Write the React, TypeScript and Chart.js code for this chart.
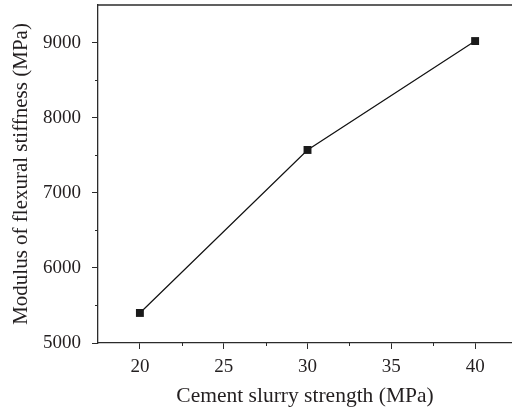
import React, { useEffect, useRef } from "react";
import { Chart, registerables } from "chart.js";

Chart.register(...registerables);

const strengths = [20, 30, 40];
const stiffness = [5400, 7570, 9020];
const xMajorTicks = [20, 25, 30, 35, 40];
const xMinorTicks = [22.5, 27.5, 32.5, 37.5];
const yMajorTicks = [5000, 6000, 7000, 8000, 9000];
const yMinorTicks = [5500, 6500, 7500, 8500];

const AXIS_COLOR = "#2b2b2b";
const TEXT_COLOR = "#231f20";
const FONT = "'Liberation Serif', 'DejaVu Serif', serif";

const framePlugin = {
  id: "frameAndMinor",
  afterDraw(chart: any) {
    const { ctx, chartArea, scales } = chart;
    ctx.save();
    ctx.strokeStyle = AXIS_COLOR;
    ctx.lineWidth = 1.3;
    ctx.beginPath();
    ctx.moveTo(chartArea.left, chartArea.top);
    ctx.lineTo(chartArea.right + 1, chartArea.top);
    ctx.stroke();
    ctx.lineWidth = 1;
    ctx.beginPath();
    for (const v of xMinorTicks) {
      const px = Math.round(scales.x.getPixelForValue(v)) + 0.5;
      ctx.moveTo(px, chartArea.bottom);
      ctx.lineTo(px, chartArea.bottom + 3);
    }
    for (const v of yMinorTicks) {
      const py = Math.round(scales.y.getPixelForValue(v)) + 0.5;
      ctx.moveTo(chartArea.left, py);
      ctx.lineTo(chartArea.left - 3, py);
    }
    ctx.stroke();
    ctx.restore();
  },
};

export default function App() {
  const ref = useRef<HTMLCanvasElement | null>(null);
  useEffect(() => {
    document.body.style.margin = "0";
    const canvas = ref.current!;
    const chart = new Chart(canvas, {
      type: "line",
      data: {
        datasets: [
          {
            data: strengths.map((x, i) => ({ x, y: stiffness[i] })),
            borderColor: "#111",
            borderWidth: 1.2,
            backgroundColor: "#1a1a1a",
            pointStyle: "rect",
            pointRadius: 5.6,
            pointBorderWidth: 0,
            pointBackgroundColor: "#1a1a1a",
            tension: 0,
            clip: false,
          },
        ],
      },
      options: {
        animation: false,
        responsive: false,
        maintainAspectRatio: false,
        layout: { autoPadding: false, padding: { left: 0, right: 0, top: 5, bottom: 0 } },
        plugins: { legend: { display: false }, tooltip: { enabled: false } },
        scales: {
          x: {
            type: "linear",
            min: 17.5,
            max: 42.2,
            afterBuildTicks: (axis: any) => {
              axis.ticks = xMajorTicks.map((value) => ({ value }));
            },
            afterFit: (scale: any) => {
              scale.height = 67;
              scale.paddingLeft = 0;
              scale.paddingRight = 0;
              scale.paddingTop = 0;
              scale.paddingBottom = 0;
            },
            grid: {
              display: true,
              drawOnChartArea: false,
              drawTicks: true,
              tickLength: 6,
              tickColor: AXIS_COLOR,
              tickWidth: 1,
            },
            border: { display: true, color: AXIS_COLOR, width: 1.3 },
            ticks: {
              color: TEXT_COLOR,
              font: { family: FONT, size: 19 },
              padding: 7,
              maxRotation: 0,
              callback: (v: any) => String(v),
            },
            title: {
              display: true,
              text: "Cement slurry strength (MPa)",
              color: TEXT_COLOR,
              font: { family: FONT, size: 21.5 },
              padding: { top: 0, bottom: 1 },
            },
          },
          y: {
            type: "linear",
            min: 5000,
            max: 9500,
            afterBuildTicks: (axis: any) => {
              axis.ticks = yMajorTicks.map((value) => ({ value }));
            },
            afterFit: (scale: any) => {
              scale.width = 98;
              scale.paddingLeft = 0;
              scale.paddingRight = 0;
              scale.paddingTop = 0;
              scale.paddingBottom = 0;
            },
            grid: {
              display: true,
              drawOnChartArea: false,
              drawTicks: true,
              tickLength: 6,
              tickColor: AXIS_COLOR,
              tickWidth: 1,
            },
            border: { display: true, color: AXIS_COLOR, width: 1.3 },
            ticks: {
              color: TEXT_COLOR,
              font: { family: FONT, size: 19 },
              padding: 11,
              callback: (v: any) => String(v),
            },
            title: {
              display: true,
              text: "Modulus of flexural stiffness (MPa)",
              color: TEXT_COLOR,
              font: { family: FONT, size: 21 },
              padding: { top: 9, bottom: 0 },
            },
          },
        },
      },
      plugins: [framePlugin],
    });
    return () => chart.destroy();
  }, []);
  return (
    <div style={{ position: "fixed", left: 0, top: 0, width: 512, height: 410 }}>
      <canvas ref={ref} width={512} height={410} style={{ display: "block", width: 512, height: 410 }} />
    </div>
  );
}
